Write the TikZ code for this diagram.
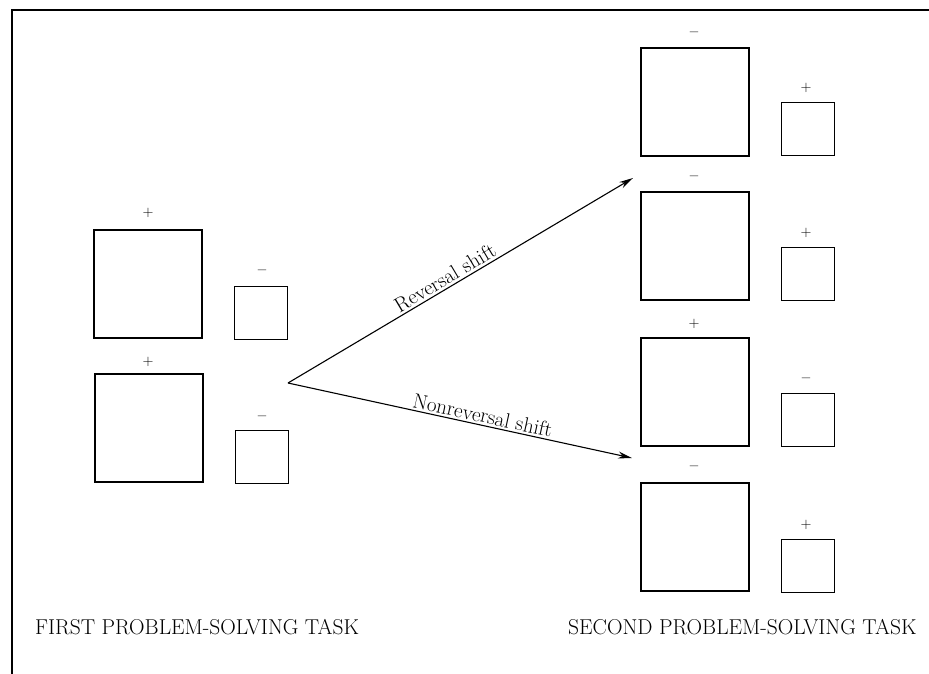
\documentclass[tikz,border=0pt]{standalone}
\usepackage{fontspec}
\usepackage{tikz}
\usetikzlibrary{arrows.meta, positioning}

\tikzset{
  bigbox/.style={draw, line width=1.5pt, minimum size=108pt, inner sep=0pt},
  smallbox/.style={draw, line width=1.5pt, minimum size=53pt, inner sep=0pt},
  sign/.style={inner sep=0pt, font=\fontsize{15}{15}\selectfont},
  tasklabel/.style={anchor=base west, inner sep=0pt, font=\fontsize{21.5}{23}\selectfont},
  shiftlabel/.style={sloped, above, inner sep=2pt, font=\fontsize{21}{23}\selectfont},
  shiftarrow/.style={-{Stealth[length=14pt, width=7pt]}, line width=1.1pt}
}

\begin{document}
\begin{tikzpicture}[x=1pt, y=-1pt]
  \useasboundingbox (0,0) rectangle (929,674);
  % frame (top and left edges)
  \draw[line width=1.5pt] (12,674) -- (12,10) -- (929,10);

  % First problem-solving task
  \node[bigbox]   (a1) at (148,284) {};
  \node[smallbox] (b1) at (261,313) {};
  \node[bigbox]   (a2) at (149,428) {};
  \node[smallbox] (b2) at (262,457) {};
  \node[sign] (a1s) at (148,213) {$+$};
  \node[sign] (b1s) at (262,272) {\textbf{--}};
  \node[sign] (a2s) at (148,362) {$+$};
  \node[sign] (b2s) at (262,418) {\textbf{--}};

  % Second problem-solving task
  \node[bigbox]   (c1) at (695,102) {};
  \node[smallbox] (d1) at (808,129) {};
  \node[bigbox]   (c2) at (695,246) {};
  \node[smallbox] (d2) at (808,274) {};
  \node[bigbox]   (c3) at (695,392) {};
  \node[smallbox] (d3) at (808,420) {};
  \node[bigbox]   (c4) at (695,537) {};
  \node[smallbox] (d4) at (808,566) {};
  \node[sign] (c1s) at (694,34)  {\textbf{--}};
  \node[sign] (d1s) at (806,88)  {$+$};
  \node[sign] (c2s) at (694,178) {\textbf{--}};
  \node[sign] (d2s) at (806,233) {$+$};
  \node[sign] (c3s) at (694,324) {$+$};
  \node[sign] (d3s) at (806,380) {\textbf{--}};
  \node[sign] (c4s) at (694,468) {\textbf{--}};
  \node[sign] (d4s) at (806,525) {$+$};

  % shifts
  \coordinate (split) at (288,383);
  \coordinate (rev) at (633,178);
  \coordinate (nonrev) at (632,458);
  \draw[shiftarrow] (split) -- (rev) node[shiftlabel, pos=0.47] (revlabel) {Reversal shift};
  \draw[shiftarrow] (split) -- (nonrev) node[shiftlabel, pos=0.56] (nonrevlabel) {Nonreversal shift};

  % task labels
  \node[tasklabel] (first) at (35,634) {FIRST PROBLEM-SOLVING TASK};
  \node[tasklabel] (second) at (568,634) {SECOND PROBLEM-SOLVING TASK};
\end{tikzpicture}
\end{document}
